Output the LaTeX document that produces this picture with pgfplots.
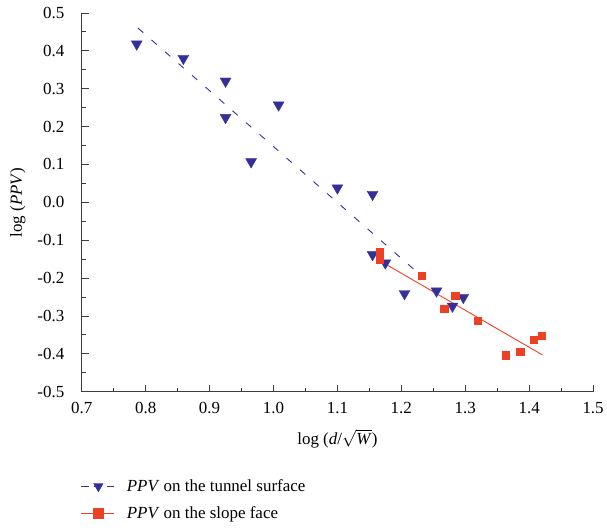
\documentclass[border=0pt]{standalone}
\usepackage{fontspec}
\setmainfont{Liberation Serif}
\usepackage{pgfplots}
\pgfplotsset{compat=1.18}
\definecolor{tunnel}{RGB}{52,48,154}
\definecolor{slope}{RGB}{238,64,36}
\definecolor{axisgray}{RGB}{60,60,60}

\begin{document}
\begin{tikzpicture}
\begin{axis}[
  scale only axis,
  width=513pt, height=380pt,
  xmin=0.7, xmax=1.5, ymin=-0.5, ymax=0.5,
  axis x line*=bottom, axis y line*=left,
  axis line style={axisgray, line width=1pt},
  xtick={0.7,0.8,0.9,1.0,1.1,1.2,1.3,1.4,1.5},
  xticklabels={0.7,0.8,0.9,1.0,1.1,1.2,1.3,1.4,1.5},
  ytick={-0.5,-0.4,-0.3,-0.2,-0.1,0,0.1,0.2,0.3,0.4,0.5},
  yticklabels={-0.5,-0.4,-0.3,-0.2,-0.1,0.0,0.1,0.2,0.3,0.4,0.5},
  minor x tick num=1, minor y tick num=1,
  tick align=inside,
  major tick length=7pt, minor tick length=4pt,
  every tick/.style={axisgray, line width=0.9pt},
  tick label style={font=\fontsize{17}{20}\selectfont},
  xticklabel style={yshift=-7pt},
  yticklabel style={xshift=-14pt},
  label style={font=\fontsize{17}{20}\selectfont},
  xlabel={log (\textit{d}/$\sqrt{\mbox{\textit{W}}}$)},
  xlabel style={at={(axis description cs:0.5,0)}, anchor=center, yshift=-47pt, inner sep=0pt},
  ylabel={log (\textit{PPV})},
  ylabel style={at={(axis description cs:0,0.5)}, anchor=center, yshift=64pt},
  legend style={draw=none, fill=none, at={(axis description cs:0,0)}, anchor=north west,
    yshift=-85pt, xshift=-2pt, column sep=10pt,
    font=\fontsize{17}{20}\selectfont, row sep=10pt, inner sep=1pt},
  legend cell align=left,
  legend image code/.code={\draw[mark repeat=2,mark phase=2] plot coordinates {(0pt,0pt) (17pt,0pt) (33pt,0pt)};},
]
\addlegendimage{tunnel, line width=0.9pt, dash pattern=on 8pt off 5pt, mark=triangle*, mark size=5pt, mark options={solid, rotate=180, fill=tunnel, draw=tunnel}}
\addlegendentry{\textit{PPV} on the tunnel surface}
\addlegendimage{slope, line width=1pt, mark=square*, mark size=4.8pt, mark options={fill=slope, draw=slope}}
\addlegendentry{\textit{PPV} on the slope face}

% tunnel surface fit
\addplot[forget plot, tunnel, line width=0.9pt, dash pattern=on 7pt off 11pt] coordinates {(0.788,0.460) (1.238,-0.204)};
% tunnel surface data
\addplot[forget plot, only marks, mark=triangle*, mark size=6.3pt, mark options={rotate=180, fill=tunnel, draw=tunnel}] coordinates {
(0.786,0.418) (0.859,0.380) (0.925,0.320) (0.925,0.224) (1.008,0.257)
(0.965,0.107) (1.100,0.038) (1.155,0.021) (1.155,-0.138) (1.175,-0.160)
(1.205,-0.241) (1.255,-0.234) (1.280,-0.274) (1.297,-0.251)
};
% slope face fit
\addplot[forget plot, slope, line width=0.9pt] coordinates {(1.166,-0.154) (1.421,-0.403)};
% slope face data
\addplot[forget plot, only marks, mark=square*, mark size=3.7pt, mark options={fill=slope, draw=slope}] coordinates {
(1.166,-0.131) (1.166,-0.150) (1.232,-0.194) (1.284,-0.247) (1.267,-0.280)
(1.319,-0.312) (1.363,-0.404) (1.386,-0.394) (1.407,-0.363) (1.420,-0.352)
};
\end{axis}
\path ([xshift=-82pt,yshift=-138pt]current axis.south west) rectangle ([xshift=12pt,yshift=13pt]current axis.north east);
\end{tikzpicture}
\end{document}
